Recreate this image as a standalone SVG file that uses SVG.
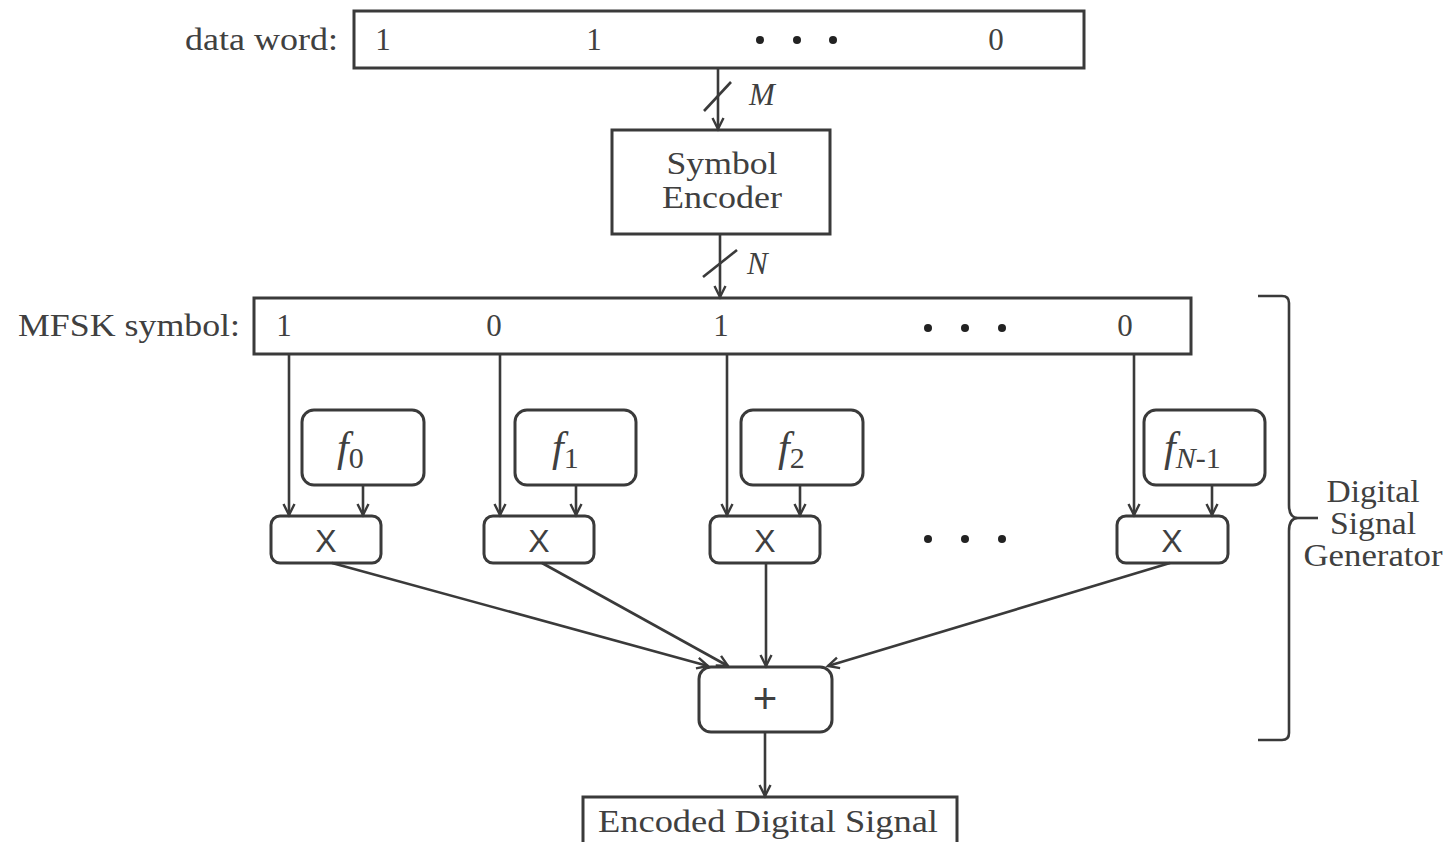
<svg xmlns="http://www.w3.org/2000/svg" width="1449" height="842" viewBox="0 0 1449 842">
<style>
.box{fill:#fff;stroke:#3a3a3a;stroke-width:3}
.ln{fill:none;stroke:#3a3a3a;stroke-width:2.6}
.t{font-family:'Liberation Serif','Times New Roman',Times,serif;font-size:31px;fill:#404040}
.s{font-family:'Liberation Sans',Arial,Helvetica,sans-serif;font-size:32px;fill:#404040}
.plus{font-family:'Liberation Sans',Arial,Helvetica,sans-serif;font-size:42px;fill:#404040}
.f{font-family:'Liberation Serif','Times New Roman',Times,serif;font-size:42px;fill:#404040}
.dot{fill:#222}
</style>
<defs>
<marker id="ah" markerUnits="userSpaceOnUse" markerWidth="18" markerHeight="18" refX="13" refY="8" orient="auto">
<path d="M2,2.5 L13,8 L2,13.5" fill="none" stroke="#3a3a3a" stroke-width="2.4"/>
</marker>
</defs>
<rect width="1449" height="842" fill="#fff"/>

<g id="dataword">
<text class="t" x="338" y="50" text-anchor="end" textLength="153" lengthAdjust="spacingAndGlyphs">data word:</text>
<rect class="box" x="354" y="11" width="730" height="57"/>
<text class="t" x="383" y="50" text-anchor="middle">1</text>
<text class="t" x="594" y="50" text-anchor="middle">1</text>
<circle class="dot" cx="760" cy="40" r="4"/><circle class="dot" cx="797" cy="40" r="4"/><circle class="dot" cx="833" cy="40" r="4"/>
<text class="t" x="996" y="50" text-anchor="middle">0</text>
</g>

<g id="encoder">
<rect class="box" x="612" y="130" width="218" height="104"/>
<text class="t" x="722" y="174" text-anchor="middle" textLength="111" lengthAdjust="spacingAndGlyphs">Symbol</text>
<text class="t" x="722" y="208" text-anchor="middle" textLength="120" lengthAdjust="spacingAndGlyphs">Encoder</text>
</g>

<g id="mfsk">
<text class="t" x="240" y="336" text-anchor="end" textLength="222" lengthAdjust="spacingAndGlyphs">MFSK symbol:</text>
<rect class="box" x="254" y="298" width="937" height="56"/>
<text class="t" x="284" y="336" text-anchor="middle">1</text>
<text class="t" x="494" y="336" text-anchor="middle">0</text>
<text class="t" x="721" y="336" text-anchor="middle">1</text>
<circle class="dot" cx="928" cy="328" r="4"/><circle class="dot" cx="965" cy="328" r="4"/><circle class="dot" cx="1002" cy="328" r="4"/>
<text class="t" x="1125" y="336" text-anchor="middle">0</text>
</g>

<g id="f0">
<rect class="box" x="302" y="410" width="122" height="75" rx="12"/>
<text class="f" x="337" y="461"><tspan font-style="italic">f</tspan><tspan font-size="30" dy="7">0</tspan></text>
</g>
<g id="f1">
<rect class="box" x="515" y="410" width="121" height="75" rx="12"/>
<text class="f" x="552" y="461"><tspan font-style="italic">f</tspan><tspan font-size="30" dy="7">1</tspan></text>
</g>
<g id="f2">
<rect class="box" x="741" y="410" width="122" height="75" rx="12"/>
<text class="f" x="778" y="461"><tspan font-style="italic">f</tspan><tspan font-size="30" dy="7">2</tspan></text>
</g>
<g id="fN1">
<rect class="box" x="1144" y="410" width="121" height="75" rx="12"/>
<text class="f" x="1164" y="461"><tspan font-style="italic">f</tspan><tspan font-size="30" dy="7"><tspan font-style="italic">N</tspan>-1</tspan></text>
</g>

<g id="mult0"><rect class="box" x="271" y="516" width="110" height="47" rx="9"/><text class="s" x="326" y="552" text-anchor="middle">X</text></g>
<g id="mult1"><rect class="box" x="484" y="516" width="110" height="47" rx="9"/><text class="s" x="539" y="552" text-anchor="middle">X</text></g>
<g id="mult2"><rect class="box" x="710" y="516" width="110" height="47" rx="9"/><text class="s" x="765" y="552" text-anchor="middle">X</text></g>
<g id="mult3"><rect class="box" x="1117" y="516" width="111" height="47" rx="9"/><text class="s" x="1172" y="552" text-anchor="middle">X</text></g>

<g id="middots">
<circle class="dot" cx="928" cy="539" r="4"/><circle class="dot" cx="965" cy="539" r="4"/><circle class="dot" cx="1002" cy="539" r="4"/>
</g>

<g id="sum">
<rect class="box" x="699" y="667" width="133" height="65" rx="12"/>
<text class="plus" x="765" y="713" text-anchor="middle">+</text>
</g>

<g id="output">
<rect class="box" x="583" y="797" width="374" height="50"/>
<text class="t" x="768" y="832" text-anchor="middle" textLength="340" lengthAdjust="spacingAndGlyphs">Encoded Digital Signal</text>
</g>

<g id="generator">
<path class="ln" d="M1258,296 L1282,296 Q1289,296 1289,303 L1289,505 Q1289,518 1298,518 Q1289,518 1289,531 L1289,733 Q1289,740 1282,740 L1258,740"/>
<line class="ln" x1="1298" y1="518" x2="1318" y2="518"/>
<text class="t" x="1373" y="502" text-anchor="middle" textLength="93" lengthAdjust="spacingAndGlyphs">Digital</text>
<text class="t" x="1373" y="534" text-anchor="middle" textLength="86" lengthAdjust="spacingAndGlyphs">Signal</text>
<text class="t" x="1373" y="566" text-anchor="middle" textLength="139" lengthAdjust="spacingAndGlyphs">Generator</text>
</g>

<g id="connectors">
<line class="ln" x1="718" y1="68" x2="718" y2="129" marker-end="url(#ah)"/>
<line class="ln" x1="704" y1="111" x2="731" y2="82"/>
<text class="t" x="749" y="105" font-style="italic">M</text>
<line class="ln" x1="720" y1="234" x2="720" y2="297" marker-end="url(#ah)"/>
<line class="ln" x1="703" y1="277" x2="737" y2="250"/>
<text class="t" x="747" y="274" font-style="italic">N</text>

<line class="ln" x1="289" y1="354" x2="289" y2="515" marker-end="url(#ah)"/>
<line class="ln" x1="500" y1="354" x2="500" y2="515" marker-end="url(#ah)"/>
<line class="ln" x1="727" y1="354" x2="727" y2="515" marker-end="url(#ah)"/>
<line class="ln" x1="1134" y1="354" x2="1134" y2="515" marker-end="url(#ah)"/>

<line class="ln" x1="363" y1="485" x2="363" y2="515" marker-end="url(#ah)"/>
<line class="ln" x1="576" y1="485" x2="576" y2="515" marker-end="url(#ah)"/>
<line class="ln" x1="800" y1="485" x2="800" y2="515" marker-end="url(#ah)"/>
<line class="ln" x1="1212" y1="485" x2="1212" y2="515" marker-end="url(#ah)"/>

<line class="ln" x1="332" y1="563" x2="708" y2="666" marker-end="url(#ah)"/>
<line class="ln" x1="542" y1="563" x2="728" y2="666" marker-end="url(#ah)"/>
<line class="ln" x1="766" y1="563" x2="766" y2="666" marker-end="url(#ah)"/>
<line class="ln" x1="1170" y1="563" x2="828" y2="666" marker-end="url(#ah)"/>

<line class="ln" x1="765" y1="732" x2="765" y2="796" marker-end="url(#ah)"/>
</g>
</svg>
